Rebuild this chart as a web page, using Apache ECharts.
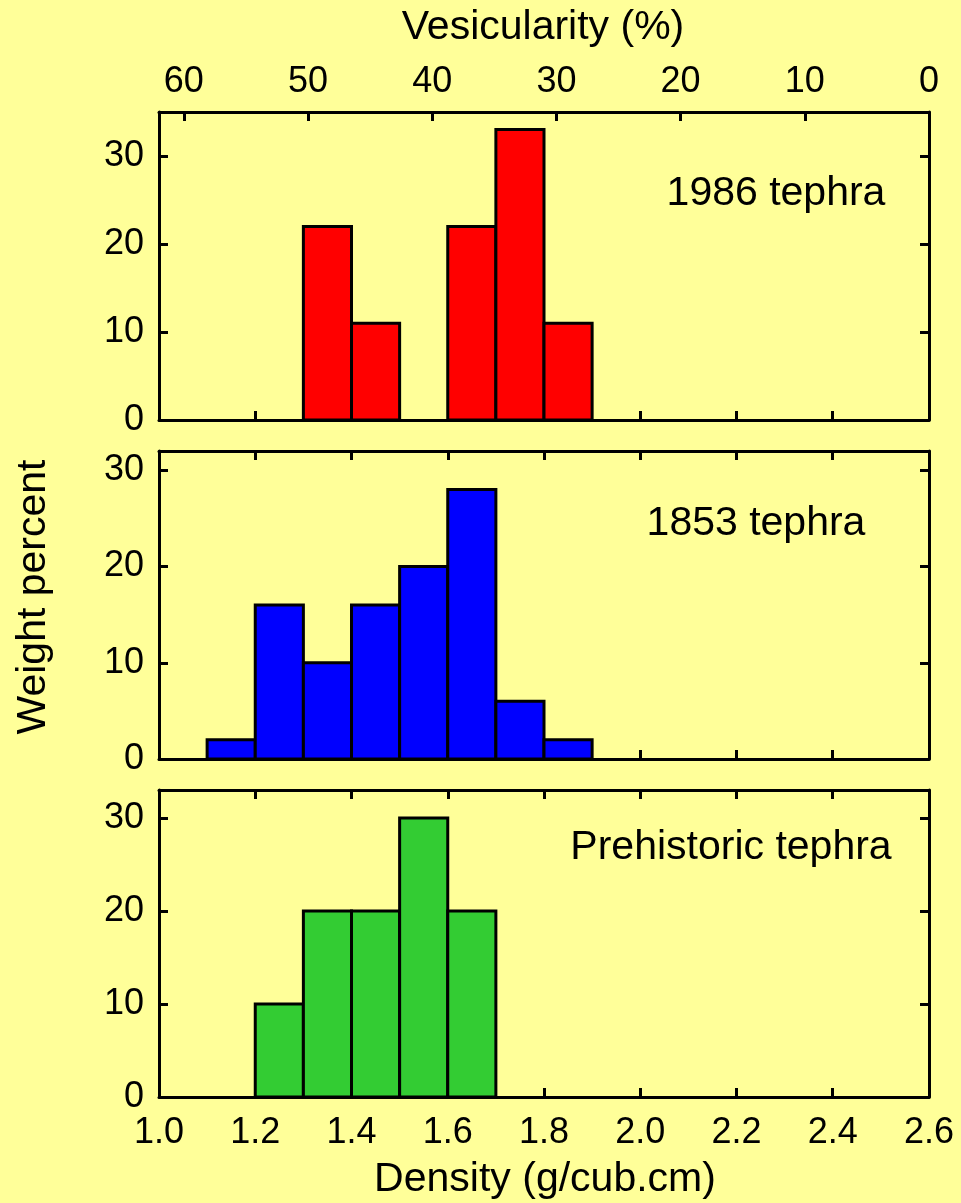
<!DOCTYPE html>
<html><head><meta charset="utf-8">
<script src="https://cdn.jsdelivr.net/npm/echarts@6/dist/echarts.min.js"></script>
<style>html,body{margin:0;padding:0;background:#FFFF99}#c{width:961px;height:1203px}</style>
</head><body><div id="c"></div>
<script>
// ---- data ----
const binStarts = [1.1, 1.2, 1.3, 1.4, 1.5, 1.6, 1.7, 1.8];
const binWidth = 0.1;
const tephra1986 = [0, 0, 22, 11, 0, 22, 33, 11];
const tephra1853 = [2, 16, 10, 16, 20, 28, 6, 2];
const tephraPrehistoric = [0, 10, 20, 20, 30, 20, 0, 0];
const panelNames = ['1986 tephra', '1853 tephra', 'Prehistoric tephra'];
const weightTicks = [0, 10, 20, 30];
const vesicularityTicks = [0, 10, 20, 30, 40, 50, 60];
const densityRange = [1.0, 2.6];
const vesicularityRange = [0, 62];
const yMaxes = [35, 32, 33];

// ---- styles / layout ----
const colors = ['#FF0000', '#0000FF', '#33CC33'];
const FONT = '"Liberation Sans", Arial, Helvetica, sans-serif';
const grids = [
  {left: 159, width: 770, top: 112, height: 308},
  {left: 159, width: 770, top: 451, height: 308},
  {left: 159, width: 770, top: 790, height: 307}
];
const axisLine = {show: true, onZero: false, lineStyle: {color: '#000', width: 3}};
const axisTick = {show: true, inside: true, length: 9, lineStyle: {color: '#000', width: 3}};
const seriesValues = [tephra1986, tephra1853, tephraPrehistoric];
const LABEL_SIZE = 36;

const xAxes = [], yAxes = [], series = [];
grids.forEach((g, i) => {
  // bottom density axis
  xAxes.push({
    type: 'value', gridIndex: i, position: 'bottom',
    min: densityRange[0], max: densityRange[1], interval: 0.2,
    axisLine, axisTick, splitLine: {show: false},
    axisLabel: {show: i === 2, margin: 18, color: '#000', fontSize: LABEL_SIZE, fontFamily: FONT,
      formatter: v => v.toFixed(1)}
  });
  // top axis
  if (i === 0) {
    xAxes.push({
      type: 'value', gridIndex: i, position: 'top', inverse: true,
      min: vesicularityRange[0], max: vesicularityRange[1],
      axisLine, splitLine: {show: false},
      axisTick: Object.assign({}, axisTick, {customValues: vesicularityTicks}),
      axisLabel: {show: true, margin: 12, color: '#000', fontSize: LABEL_SIZE, fontFamily: FONT,
        customValues: vesicularityTicks}
    });
  } else {
    xAxes.push({
      type: 'value', gridIndex: i, position: 'top',
      min: densityRange[0], max: densityRange[1], interval: 0.2,
      axisLine, axisTick, splitLine: {show: false}, axisLabel: {show: false}
    });
  }
  yAxes.push({
    type: 'value', gridIndex: i, position: 'left', min: 0, max: yMaxes[i],
    axisLine, splitLine: {show: false},
    axisTick: Object.assign({}, axisTick, {customValues: weightTicks}),
    axisLabel: {show: true, margin: 15, color: '#000', fontSize: LABEL_SIZE, fontFamily: FONT,
      customValues: weightTicks}
  });
  yAxes.push({
    type: 'value', gridIndex: i, position: 'right', min: 0, max: yMaxes[i],
    axisLine, splitLine: {show: false},
    axisTick: Object.assign({}, axisTick, {customValues: weightTicks}),
    axisLabel: {show: false}
  });
  const data = binStarts.map((s, k) => [s, +(s + binWidth).toFixed(2), seriesValues[i][k]])
    .filter(d => d[2] > 0);
  const color = colors[i];
  series.push({
    type: 'custom', name: panelNames[i],
    xAxisIndex: i * 2, yAxisIndex: i * 2,
    data,
    encode: {x: [0, 1], y: 2},
    z: 1,
    renderItem: (params, api) => {
      const p0 = api.coord([api.value(0), api.value(2)]);
      const p1 = api.coord([api.value(1), 0]);
      return {
        type: 'rect',
        shape: {x: p0[0], y: p0[1], width: p1[0] - p0[0], height: p1[1] - p0[1]},
        style: {fill: color, stroke: '#000', lineWidth: 3}
      };
    }
  });
});

const textStyle = (text, size) => ({text, font: size + 'px ' + FONT, fill: '#000',
  textAlign: 'center', textVerticalAlign: 'middle'});
const graphic = [
  {type: 'text', x: 543, y: 28, style: textStyle('Vesicularity (%)', 41)},
  {type: 'text', x: 545, y: 1180, style: textStyle('Density (g/cub.cm)', 41)},
  {type: 'text', x: 34, y: 597, rotation: Math.PI / 2, style: textStyle('Weight percent', 41)},
  {type: 'text', x: 776, y: 194, style: textStyle(panelNames[0], 41)},
  {type: 'text', x: 756, y: 524, style: textStyle(panelNames[1], 41)},
  {type: 'text', x: 731, y: 848, style: textStyle(panelNames[2], 41)}
];

const chart = echarts.init(document.getElementById('c'), null, {renderer: 'canvas'});
chart.setOption({
  backgroundColor: '#FFFF99',
  animation: false,
  grid: grids,
  xAxis: xAxes,
  yAxis: yAxes,
  series,
  graphic
});
</script></body></html>
